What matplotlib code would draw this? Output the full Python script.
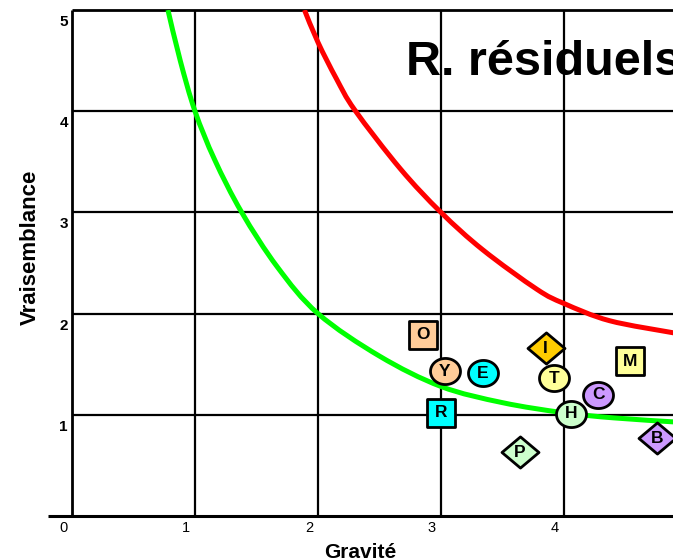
import numpy as np
import matplotlib
matplotlib.use("Agg")
import matplotlib.pyplot as plt
from matplotlib.path import Path
from matplotlib.patches import PathPatch
from matplotlib.markers import MarkerStyle
from matplotlib.transforms import ScaledTranslation

plt.rcParams['font.family'] = ['Liberation Sans', 'DejaVu Sans']

# ---- data ----
labels = ['O', 'Y', 'E', 'R', 'I', 'T', 'M', 'C', 'H', 'P', 'B']
gravite = [2.85, 3.03, 3.34, 3.00, 3.85, 3.92, 4.54, 4.28, 4.06, 3.64, 4.76]
vraisemblance = [1.79, 1.43, 1.41, 1.02, 1.66, 1.36, 1.53, 1.20, 1.01, 0.63, 0.77]
shapes = ['square', 'circle', 'circle', 'square', 'diamond', 'circle',
          'square', 'circle', 'circle', 'diamond', 'diamond']
colors = ['#FFCC99', '#FFCC99', '#00FFFF', '#00FFFF', '#FFCC00', '#FFFF99',
          '#FFFF99', '#CC99FF', '#CCFFCC', '#CCFFCC', '#CC99FF']

green_x = [0.78, 0.88, 1.00, 1.16, 1.38, 1.67, 2.00, 2.50, 3.00, 3.50, 4.00, 4.40, 4.89]
green_y = [5.00, 4.50, 4.00, 3.52, 3.00, 2.46, 2.00, 1.58, 1.28, 1.12, 1.02, 0.97, 0.93]

red_x = [1.89, 2.00, 2.15, 2.30, 2.67, 3.00, 3.34, 3.78, 4.00, 4.37, 4.89]
red_y = [5.00, 4.68, 4.32, 4.01, 3.43, 3.00, 2.63, 2.24, 2.10, 1.93, 1.81]

x_ticks = [0, 1, 2, 3, 4]
x_ticklabels = ['0', '1', '2', '3', '4']
y_ticks = [1, 2, 3, 4, 5]
y_ticklabels = ['1', '2', '3', '4', '5']

title = 'R. résiduels'
xlabel = 'Gravité'
ylabel = 'Vraisemblance'


def smooth_path(xs, ys):
    """Catmull-Rom curve through the read points, expressed as cubic Bezier segments."""
    p = np.column_stack([xs, ys]).astype(float)
    verts = [p[0]]
    codes = [Path.MOVETO]
    n = len(p)
    for i in range(n - 1):
        p0 = p[i - 1] if i > 0 else p[i]
        p1 = p[i]
        p2 = p[i + 1]
        p3 = p[i + 2] if i + 2 < n else p[i + 1]
        c1 = p1 + (p2 - p0) / 6.0
        c2 = p2 - (p3 - p1) / 6.0
        verts += [c1, c2, p2]
        codes += [Path.CURVE4] * 3
    return Path(verts, codes)


# ---- figure ----
W, H = 673, 560
fig = plt.figure(figsize=(W / 100, H / 100), dpi=100)
ax = fig.add_axes([72 / W, 44 / H, 1 - 72 / W, (516 - 10) / H])
XMAX = 601 / 123
ax.set_xlim(0, XMAX)
ax.set_ylim(0, 5)
for s in ax.spines.values():
    s.set_visible(False)

# grid
for gx in [1, 2, 3, 4]:
    ax.plot([gx, gx], [0, 5], color='black', lw=1.6, zorder=1, solid_capstyle='butt')
for gy in [1, 2, 3, 4]:
    ax.plot([0, XMAX], [gy, gy], color='black', lw=1.6, zorder=1, solid_capstyle='butt')
# borders
ax.plot([0, XMAX], [5, 5], color='black', lw=2.0, zorder=1, clip_on=False, solid_capstyle='butt')
ax.plot([0, 0], [0, 5], color='black', lw=2.0, zorder=1, clip_on=False, solid_capstyle='butt')
ax.plot([-24 / 123, XMAX], [0, 0], color='black', lw=2.2, zorder=1, clip_on=False, solid_capstyle='butt')

# curves
ax.add_patch(PathPatch(smooth_path(green_x, green_y), facecolor='none', edgecolor='#00FF00',
                       lw=3.6, zorder=2, capstyle='butt'))
ax.add_patch(PathPatch(smooth_path(red_x, red_y), facecolor='none', edgecolor='#FF0000',
                       lw=3.6, zorder=2, capstyle='butt'))

# marker shapes
t = np.linspace(0, 2 * np.pi, 60)
ellipse = Path(np.column_stack([np.cos(t), np.sin(t) * 27 / 31]), closed=True)
square = Path([(-1, -1), (1, -1), (1, 1), (-1, 1), (-1, -1)], closed=True)
diamond = Path([(-1, 0), (0, -32 / 38), (1, 0), (0, 32 / 38), (-1, 0)], closed=True)
shape_defs = {'circle': (ellipse, 30), 'square': (square, 27), 'diamond': (diamond, 37)}

for lab, gx, gy, sh, col in zip(labels, gravite, vraisemblance, shapes, colors):
    path, px = shape_defs[sh]
    ms = px * 72 / 100
    ax.plot([gx], [gy], marker=MarkerStyle(path), markersize=ms, markerfacecolor=col,
            markeredgecolor='black', markeredgewidth=2.0, linestyle='none', zorder=3,
            clip_on=False)
    ax.text(gx, gy, lab, ha='center', va='center', fontsize=12.5, fontweight='bold',
            color='black', zorder=4)

# ticks
ax.set_xticks(x_ticks)
ax.set_xticklabels(x_ticklabels, fontsize=10.5)
ax.set_yticks(y_ticks)
ax.set_yticklabels(y_ticklabels, fontsize=11, fontweight='bold')
ax.tick_params(axis='both', length=0)
ax.tick_params(axis='x', pad=3.6)
ax.tick_params(axis='y', pad=2.9)
for lbl in ax.get_xticklabels():
    lbl.set_transform(lbl.get_transform() + ScaledTranslation(-9 / 100, 0, fig.dpi_scale_trans))
for lbl in ax.get_yticklabels():
    lbl.set_transform(lbl.get_transform() + ScaledTranslation(0, -10.5 / 100, fig.dpi_scale_trans))

# labels and title
fig.text(30 / W, 1 - 247 / H, ylabel, rotation=90, ha='center', va='center',
         fontsize=16, fontweight='bold')
fig.text(360 / W, 2.5 / H, xlabel, ha='center', va='baseline', fontsize=15, fontweight='bold')
ax.text((406 - 72) / 123, (516 - 75) / 101.2, title, ha='left', va='baseline',
        fontsize=35, fontweight='bold', clip_on=False, zorder=5)

fig.savefig('out.png', dpi=100)
